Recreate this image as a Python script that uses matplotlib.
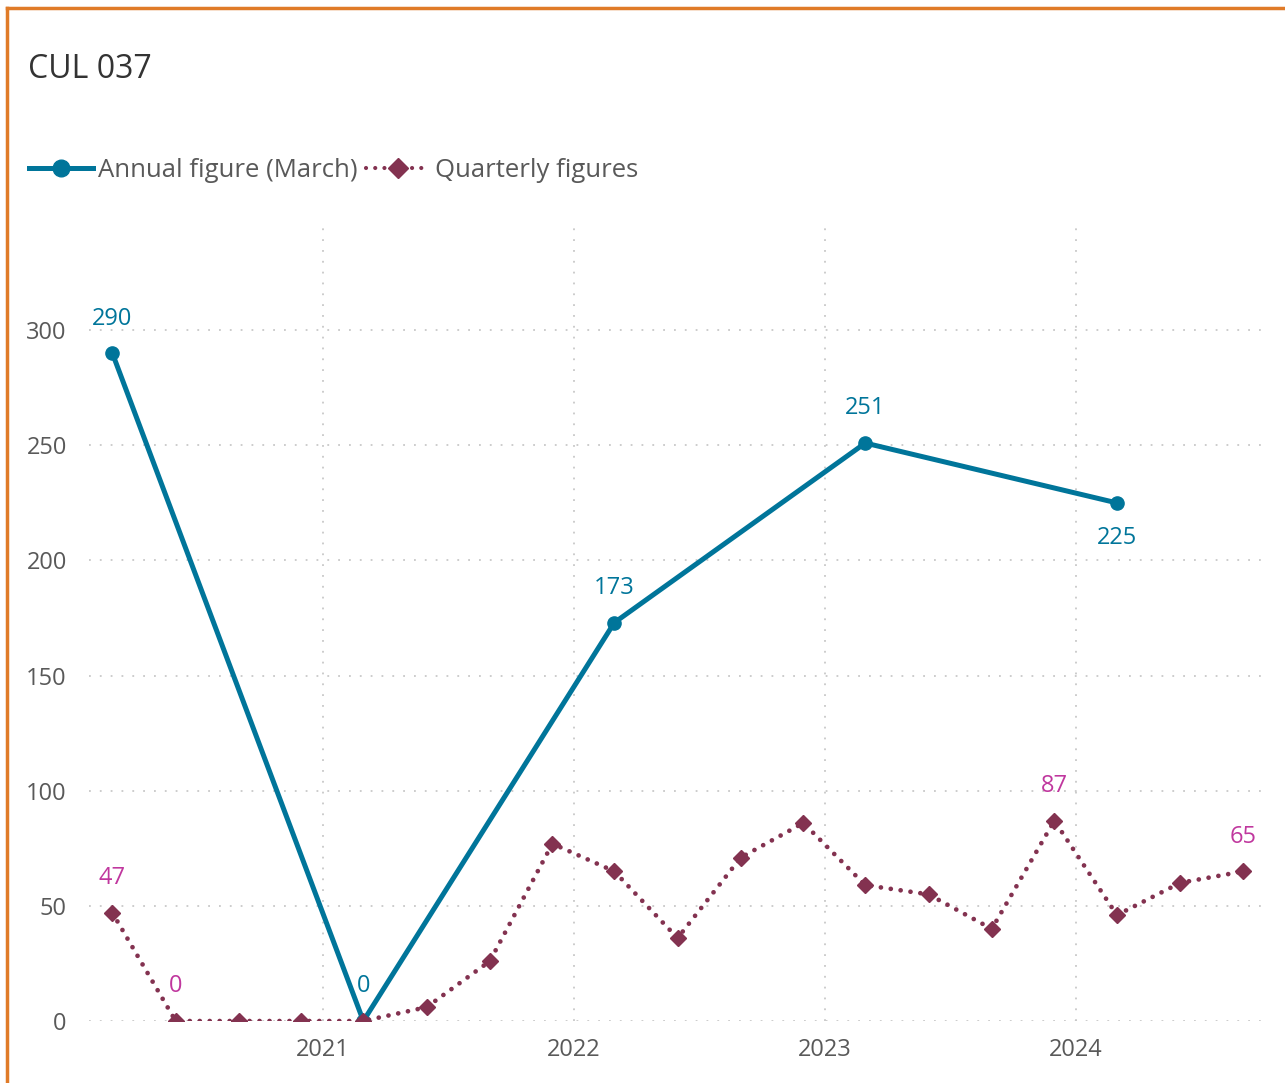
import datetime as dt
import matplotlib
matplotlib.use("Agg")
import matplotlib.pyplot as plt
import matplotlib.dates as mdates
from matplotlib.lines import Line2D

plt.rcParams['font.family'] = ['Open Sans', 'DejaVu Sans']

# data
annual_dates = [dt.date(2020, 3, 1), dt.date(2021, 3, 1), dt.date(2022, 3, 1),
                dt.date(2023, 3, 1), dt.date(2024, 3, 1)]
annual_values = [290, 0, 173, 251, 225]

quarter_dates = [dt.date(y, m, 1) for y in range(2020, 2025) for m in (3, 6, 9, 12)][:19]
quarter_values = [47, 0, 0, 0, 0, 6, 26, 77, 65, 36, 71, 86, 59, 55, 40, 87, 46, 60, 65]

# which points get labels (index, above/below)
annual_labels = [(0, 1), (1, 1), (2, 1), (3, 1), (4, -1)]
quarter_labels = [(0, 1), (1, 1), (15, 1), (18, 1)]

annual_color = '#00759A'
quarter_color = '#833250'
qlabel_color = '#C0379E'
text_gray = '#595959'

fig = plt.figure(figsize=(12.85, 10.83), dpi=100)
W, H = 1285, 1083
ax = fig.add_axes([89 / W, 1 - 1021 / H, (1262 - 89) / W, (1021 - 222) / H])

ax.plot(annual_dates, annual_values, color=annual_color, lw=3.6, marker='o',
        ms=9.5, label='Annual figure (March)', zorder=3)
ax.plot(quarter_dates, quarter_values, color=quarter_color, lw=3.4, ls=(0, (0.01, 2.1)),
        dash_capstyle='round', marker='D', ms=8, label='Quarterly figures', zorder=4)

for i, s in annual_labels:
    ax.annotate(str(annual_values[i]), (annual_dates[i], annual_values[i]),
                xytext=(0, 25 * s), textcoords='offset points', ha='center',
                va='center', fontsize=17, color=annual_color)
for i, s in quarter_labels:
    ax.annotate(str(quarter_values[i]), (quarter_dates[i], quarter_values[i]),
                xytext=(0, 25 * s), textcoords='offset points', ha='center',
                va='center', fontsize=17, color=qlabel_color)

ax.set_ylim(0, 347)
ax.set_xlim(dt.date(2020, 1, 27), dt.date(2024, 9, 28))
ax.set_yticks([0, 50, 100, 150, 200, 250, 300])
ax.xaxis.set_major_locator(mdates.YearLocator())
ax.xaxis.set_major_formatter(mdates.DateFormatter('%Y'))
ax.tick_params(length=0, labelsize=17, labelcolor=text_gray)
ax.tick_params(axis='y', pad=16)
ax.tick_params(axis='x', pad=12)
for sp in ax.spines.values():
    sp.set_visible(False)
ax.grid(True, color='#C8C8C8', ls=(0, (1, 5)), lw=1.3)
ax.set_axisbelow(True)

fig.text(28 / W, 1 - 70 / H, 'CUL 037', fontsize=23, color='#333333', va='center')

handles = [
    Line2D([], [], color=annual_color, lw=3.6, marker='o', ms=12),
    Line2D([], [], color=quarter_color, lw=3, ls=(0, (0.01, 2.2)),
           dash_capstyle='round', marker='D', ms=10),
]
fig.legend(handles, ['Annual figure (March)', 'Quarterly figures'],
           loc='center left', bbox_to_anchor=(6 / W, 1 - 170 / H),
           ncol=2, frameon=False, fontsize=18.5, labelcolor=text_gray,
           handlelength=2.5, handletextpad=0.2, columnspacing=0.3)

# orange frame (only top and left edges visible)
fig.add_artist(Line2D([7 / W, 1.0], [1 - 8 / H, 1 - 8 / H], color='#E07B28', lw=2.5,
                      transform=fig.transFigure))
fig.add_artist(Line2D([7 / W, 7 / W], [0, 1 - 8 / H], color='#E07B28', lw=2.5,
                      transform=fig.transFigure))

fig.savefig('out.png', dpi=100)
